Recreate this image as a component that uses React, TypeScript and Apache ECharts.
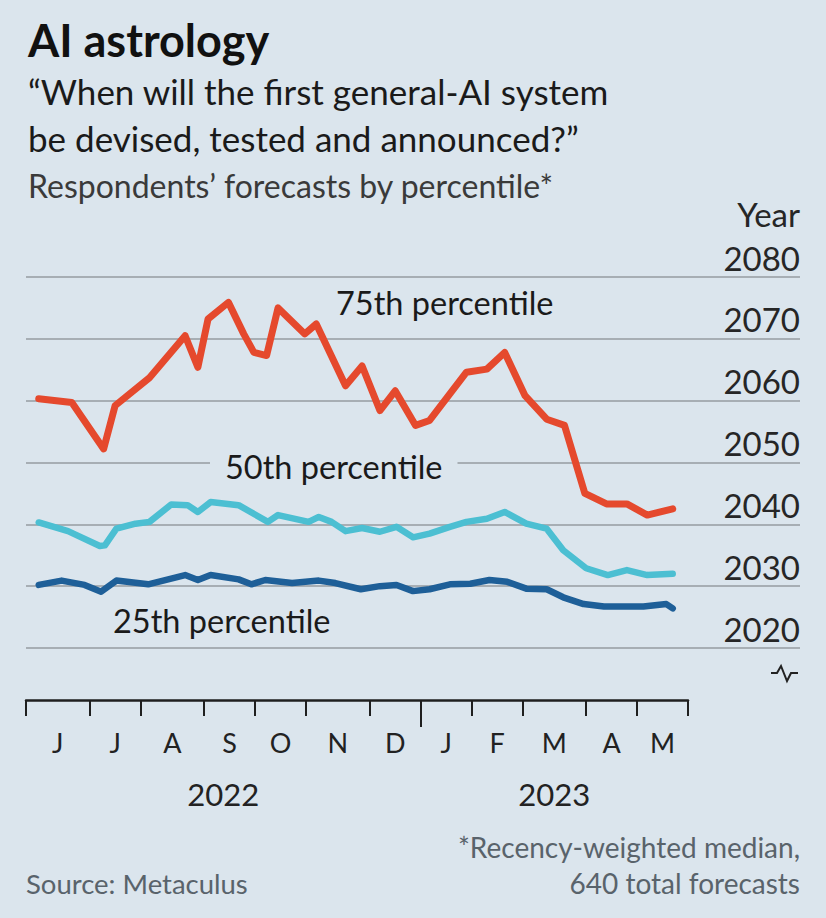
import React, { useEffect, useRef } from "react";
import * as echarts from "echarts";

// Week index (from 1 June 2022) at which each month starts; last entry closes May 2023
const monthStarts = [0, 5, 9, 14, 18, 22, 27, 31, 35, 39, 44, 48, 52];
const monthLabels = ["J", "J", "A", "S", "O", "N", "D", "J", "F", "M", "A", "M"];
const yearStarts = [0, 31, 52];
const yearLabels = ["2022", "2023"];
const yTicks = [2020, 2030, 2040, 2050, 2060, 2070, 2080];

// 75th percentile
const p75Weeks = [1.0, 3.6, 6.1, 7.0, 9.7, 12.5, 13.5, 14.3, 15.9, 17.1, 17.9, 18.9, 19.8, 21.9, 22.8, 25.1, 26.4, 27.8, 29.0, 30.6, 31.7, 34.6, 36.2, 37.6, 39.2, 40.9, 42.3, 43.9, 45.6, 47.2, 48.8, 50.8];
const p75Years = [2060.3, 2059.7, 2052.2, 2059.2, 2063.7, 2070.5, 2065.4, 2073.2, 2075.9, 2070.8, 2067.8, 2067.3, 2075.0, 2070.8, 2072.4, 2062.4, 2065.6, 2058.4, 2061.6, 2056.0, 2056.8, 2064.6, 2065.1, 2067.8, 2060.8, 2057.0, 2056.0, 2045.0, 2043.3, 2043.3, 2041.5, 2042.5];

// 50th percentile
const p50Weeks = [1.0, 3.3, 5.8, 6.2, 7.1, 8.6, 9.7, 11.4, 12.7, 13.5, 14.5, 16.7, 19.0, 19.8, 22.2, 23.0, 24.0, 25.1, 26.4, 27.8, 29.1, 30.4, 31.7, 33.3, 34.6, 36.2, 37.6, 39.3, 40.9, 42.2, 44.0, 45.7, 47.2, 48.8, 50.8];
const p50Years = [2040.3, 2038.9, 2036.5, 2036.6, 2039.3, 2040.1, 2040.4, 2043.2, 2043.1, 2042.0, 2043.6, 2043.1, 2040.4, 2041.5, 2040.4, 2041.2, 2040.4, 2038.9, 2039.4, 2038.8, 2039.6, 2037.9, 2038.5, 2039.6, 2040.4, 2040.9, 2042.0, 2040.1, 2039.3, 2035.8, 2032.9, 2031.8, 2032.6, 2031.8, 2032.0];

// 25th percentile
const p25Weeks = [1.0, 2.8, 4.6, 5.9, 7.1, 9.6, 12.5, 13.5, 14.5, 16.7, 17.7, 18.8, 20.9, 23.0, 24.3, 26.3, 27.8, 29.1, 30.4, 31.7, 33.3, 34.9, 36.4, 37.8, 39.3, 40.9, 42.2, 43.8, 45.4, 48.5, 50.3, 50.8];
const p25Years = [2030.2, 2030.9, 2030.2, 2029.1, 2030.9, 2030.3, 2031.8, 2031.0, 2031.8, 2031.1, 2030.3, 2031.0, 2030.5, 2030.9, 2030.5, 2029.5, 2030.0, 2030.2, 2029.2, 2029.5, 2030.3, 2030.4, 2031.0, 2030.7, 2029.6, 2029.5, 2028.2, 2027.1, 2026.7, 2026.7, 2027.1, 2026.4];

const BG = "#dbe5ed";
const FONT = "Lato, 'Open Sans', sans-serif";

const mids = (starts: number[]) =>
  starts.slice(0, -1).map((s, i) => (s + starts[i + 1]) / 2);

export default function App() {
  const ref = useRef<HTMLDivElement>(null);

  useEffect(() => {
    if (!ref.current) return;
    const chart = echarts.init(ref.current, null, { renderer: "svg" });

    const monthMids = mids(monthStarts);
    const yearMids = mids(yearStarts);
    const lookup = (vals: number[], labels: string[]) => (v: number) => {
      const i = vals.findIndex((m) => Math.abs(m - v) < 0.01);
      return i >= 0 ? labels[i] : "";
    };

    const pair = (w: number[], y: number[]) => w.map((x, i) => [x, y[i]]);

    const lineSeries = (name: string, w: number[], y: number[], color: string, width: number) => ({
      name,
      type: "line",
      xAxisIndex: 1,
      yAxisIndex: 1,
      data: pair(w, y),
      showSymbol: false,
      symbol: "none",
      lineStyle: { color, width, join: "round", cap: "round" },
      z: 5,
    });

    const axisColor = "#1f1f1f";

    const option: any = {
      animation: false,
      backgroundColor: BG,
      textStyle: { fontFamily: FONT },
      grid: [
        { left: 26, right: 26, top: 277, bottom: 270 },
        { left: 26, width: 662, top: 277, bottom: 270 },
      ],
      xAxis: [
        { gridIndex: 0, type: "value", min: 0, max: 52, show: false },
        {
          gridIndex: 1,
          type: "value",
          min: 0,
          max: 52,
          position: "bottom",
          offset: 52,
          axisLine: { show: true, lineStyle: { color: axisColor, width: 2.5 } },
          axisTick: { show: true, customValues: monthStarts, length: 16, lineStyle: { color: axisColor, width: 2 } },
          axisLabel: {
            customValues: monthMids,
            formatter: lookup(monthMids, monthLabels),
            fontFamily: FONT,
            fontSize: 27,
            color: "#222",
            margin: 29,
          },
          splitLine: { show: false },
        },
        {
          gridIndex: 1,
          type: "value",
          min: 0,
          max: 52,
          position: "bottom",
          offset: 52,
          axisLine: { show: false },
          axisTick: { show: true, customValues: [yearStarts[1]], length: 27, lineStyle: { color: axisColor, width: 2 } },
          axisLabel: {
            customValues: yearMids,
            formatter: lookup(yearMids, yearLabels),
            fontFamily: FONT,
            fontSize: 31,
            color: "#222",
            margin: 78,
          },
          splitLine: { show: false },
        },
      ],
      yAxis: [
        {
          gridIndex: 0,
          type: "value",
          min: yTicks[0],
          max: yTicks[yTicks.length - 1],
          interval: 10,
          position: "right",
          axisLine: { show: false },
          axisTick: { show: false },
          splitLine: { show: true, lineStyle: { color: "#a7aeb4", width: 2 } },
          axisLabel: {
            inside: true,
            verticalAlign: "bottom",
            formatter: (v: number) => String(v),
            fontFamily: FONT,
            fontSize: 33,
            color: "#262626",
            margin: 0,
            padding: [0, 0, 3, 0],
          },
        },
        { gridIndex: 1, type: "value", min: yTicks[0], max: yTicks[yTicks.length - 1], show: false },
      ],
      series: [
        lineSeries("25th percentile", p25Weeks, p25Years, "#1e5f98", 6.5),
        lineSeries("50th percentile", p50Weeks, p50Years, "#4cbfd2", 6.5),
        lineSeries("75th percentile", p75Weeks, p75Years, "#e5492d", 7),
      ],
      graphic: [
        {
          type: "text", x: 28, y: 40, z: 20,
          style: { text: "AI astrology", fontFamily: FONT, fontWeight: "bold", fontSize: 45, fill: "#111", align: "left", verticalAlign: "middle" },
        },
        {
          type: "text", x: 28, y: 91, z: 20,
          style: { text: "\u201CWhen will the first general-AI system", fontFamily: FONT, fontSize: 35, fill: "#1a1a1a", align: "left", verticalAlign: "middle" },
        },
        {
          type: "text", x: 28, y: 138, z: 20,
          style: { text: "be devised, tested and announced?\u201D", fontFamily: FONT, fontSize: 35, fill: "#1a1a1a", align: "left", verticalAlign: "middle" },
        },
        {
          type: "text", x: 28, y: 185, z: 20,
          style: { text: "Respondents\u2019 forecasts by percentile*", fontFamily: FONT, fontSize: 32, fill: "#3a3a3a", align: "left", verticalAlign: "middle" },
        },
        {
          type: "text", x: 800, y: 214, z: 20,
          style: { text: "Year", fontFamily: FONT, fontSize: 33, fill: "#262626", align: "right", verticalAlign: "middle" },
        },
        {
          type: "text", x: 336, y: 302, z: 20,
          style: { text: "75th percentile", fontFamily: FONT, fontSize: 32.5, fill: "#1a1a1a", align: "left", verticalAlign: "middle" },
        },
        {
          type: "text", x: 210, y: 466, z: 20,
          style: { text: "50th percentile", fontFamily: FONT, fontSize: 32.5, fill: "#1a1a1a", align: "left", verticalAlign: "middle", backgroundColor: BG, padding: [2, 15, 2, 15] },
        },
        {
          type: "text", x: 113, y: 620, z: 20,
          style: { text: "25th percentile", fontFamily: FONT, fontSize: 32.5, fill: "#1a1a1a", align: "left", verticalAlign: "middle" },
        },
        {
          type: "polyline", z: 20,
          shape: { points: [[771, 673], [777, 673], [781, 666], [787, 681], [791, 673], [798, 673]] },
          style: { stroke: "#222", lineWidth: 2, fill: "none" },
        },
        {
          type: "text", x: 800, y: 847, z: 20,
          style: { text: "*Recency-weighted median,", fontFamily: FONT, fontSize: 28, fill: "#59636b", align: "right", verticalAlign: "middle" },
        },
        {
          type: "text", x: 800, y: 883, z: 20,
          style: { text: "640 total forecasts", fontFamily: FONT, fontSize: 28, fill: "#59636b", align: "right", verticalAlign: "middle" },
        },
        {
          type: "text", x: 26, y: 883, z: 20,
          style: { text: "Source: Metaculus", fontFamily: FONT, fontSize: 27.5, fill: "#59636b", align: "left", verticalAlign: "middle" },
        },
      ],
    };

    chart.setOption(option);
    return () => chart.dispose();
  }, []);

  return (
    <div
      ref={ref}
      style={{ position: "fixed", left: 0, top: 0, width: 826, height: 918 }}
    />
  );
}
